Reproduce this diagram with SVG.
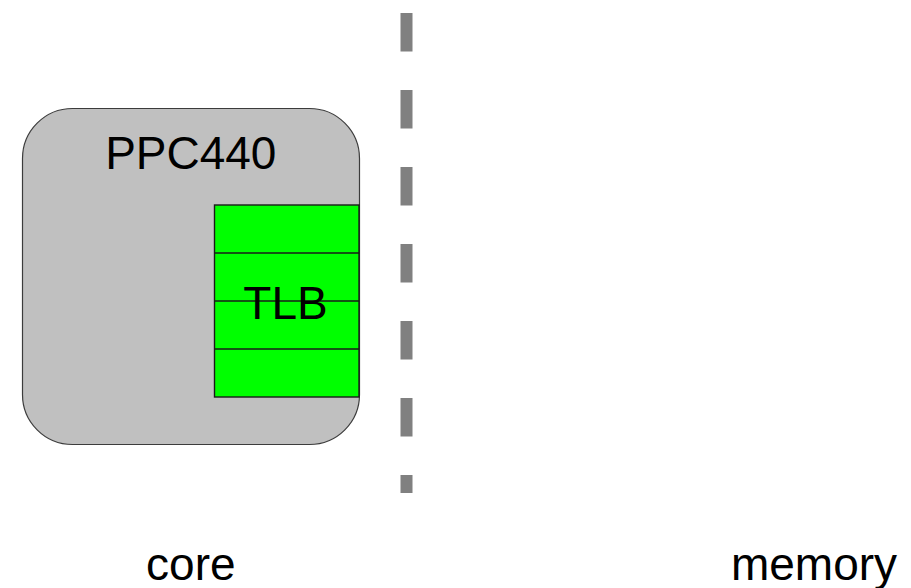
<svg xmlns="http://www.w3.org/2000/svg" width="911" height="588" viewBox="0 0 911 588">
  <style>
    .lbl { font-family: "Liberation Sans", Arial, sans-serif; font-size: 46px; fill: #000; text-anchor: middle; }
    .core-box { fill: #c0c0c0; stroke: #3c3c3c; stroke-width: 1.2; }
    .tlb-box { fill: #00ff00; stroke: #1a1a1a; stroke-width: 1.4; }
    .row { stroke: #1a1a1a; stroke-width: 1.4; }
    .divider { stroke: #808080; stroke-width: 12; stroke-dasharray: 38.5 38.5; fill: none; }
  </style>

  <rect width="911" height="588" fill="#ffffff"/>

  <!-- dashed boundary between core and memory -->
  <g id="connectors">
    <line class="divider" x1="406.5" y1="13" x2="406.5" y2="493"/>
  </g>

  <!-- processor core -->
  <g id="ppc440">
    <rect class="core-box" x="22.5" y="108.5" width="337" height="336" rx="50" ry="50"/>
    <text class="lbl" x="190.8" y="169">PPC440</text>
  </g>

  <!-- translation lookaside buffer with four entries -->
  <g id="tlb">
    <rect class="tlb-box" x="214.5" y="205" width="144.5" height="192"/>
    <line class="row" x1="214.5" y1="253" x2="359" y2="253"/>
    <line class="row" x1="214.5" y1="301" x2="359" y2="301"/>
    <line class="row" x1="214.5" y1="349" x2="359" y2="349"/>
    <text class="lbl" x="285.5" y="318.5">TLB</text>
  </g>

  <!-- region labels -->
  <g id="label-core">
    <text class="lbl" x="190.8" y="579.5">core</text>
  </g>
  <g id="label-memory">
    <text class="lbl" x="814" y="579.5">memory</text>
  </g>
</svg>
